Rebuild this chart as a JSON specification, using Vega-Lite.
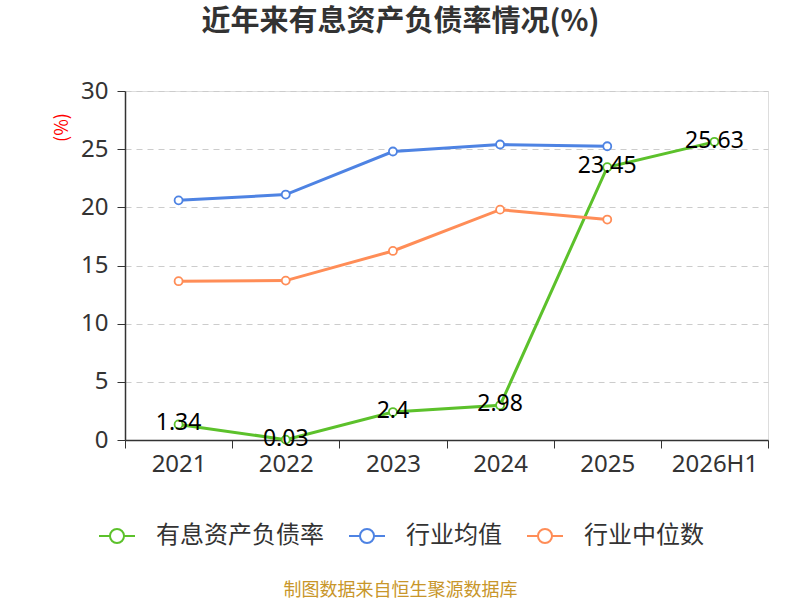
{
  "$schema": "https://vega.github.io/schema/vega-lite/v6.json",
  "width": 643,
  "height": 349,
  "autosize": {"type": "none"},
  "padding": {"left": 125, "top": 91, "right": 32, "bottom": 160},
  "background": "white",
  "title": {
    "text": "近年来有息资产负债率情况(%)",
    "font": "Noto Sans CJK SC",
    "fontSize": 29,
    "fontWeight": "bold",
    "color": "#333333",
    "anchor": "middle",
    "dx": -46,
    "offset": 42
  },
  "data": {
    "values": [
      {"period": "2021", "series": "有息资产负债率", "value": 1.34},
      {"period": "2022", "series": "有息资产负债率", "value": 0.03},
      {"period": "2023", "series": "有息资产负债率", "value": 2.4},
      {"period": "2024", "series": "有息资产负债率", "value": 2.98},
      {"period": "2025", "series": "有息资产负债率", "value": 23.45},
      {"period": "2026H1", "series": "有息资产负债率", "value": 25.63},
      {"period": "2021", "series": "行业均值", "value": 20.6},
      {"period": "2022", "series": "行业均值", "value": 21.1},
      {"period": "2023", "series": "行业均值", "value": 24.8},
      {"period": "2024", "series": "行业均值", "value": 25.4},
      {"period": "2025", "series": "行业均值", "value": 25.25},
      {"period": "2021", "series": "行业中位数", "value": 13.65},
      {"period": "2022", "series": "行业中位数", "value": 13.7},
      {"period": "2023", "series": "行业中位数", "value": 16.25},
      {"period": "2024", "series": "行业中位数", "value": 19.8},
      {"period": "2025", "series": "行业中位数", "value": 18.95}
    ]
  },
  "encoding": {
    "x": {
      "field": "period",
      "type": "ordinal",
      "sort": ["2021", "2022", "2023", "2024", "2025", "2026H1"],
      "scale": {"type": "band", "paddingInner": 0, "paddingOuter": 0},
      "axis": {
        "title": "制图数据来自恒生聚源数据库",
        "titleColor": "#c8962a",
        "titleFont": "Noto Sans CJK SC",
        "titleFontSize": 18,
        "titleFontWeight": "normal",
        "titleX": 275,
        "titleY": 150,
        "titleAlign": "center",
        "titleBaseline": "middle",
        "labelAngle": 0,
        "labelFont": "Noto Sans",
        "labelFontSize": 24,
        "labelColor": "#333333",
        "labelPadding": 4,
        "tickBand": "extent",
        "tickColor": "#333333",
        "tickSize": 8,
        "domainColor": "#333333",
        "domainWidth": 1.5,
        "grid": false
      }
    },
    "y": {
      "field": "value",
      "type": "quantitative",
      "scale": {"domain": [0, 30]},
      "axis": {
        "values": [0, 5, 10, 15, 20, 25, 30],
        "title": "(%)",
        "titleColor": "#ff0000",
        "titleFont": "Noto Sans CJK SC",
        "titleFontSize": 18,
        "titleFontWeight": "normal",
        "titleAngle": -90,
        "titleX": -63,
        "titleY": 36,
        "titleAlign": "center",
        "titleBaseline": "middle",
        "labelFont": "Noto Sans",
        "labelFontSize": 24,
        "labelColor": "#333333",
        "labelPadding": 9,
        "tickColor": "#333333",
        "tickSize": 8,
        "domainColor": "#333333",
        "domainWidth": 1.5,
        "gridColor": "#cccccc",
        "gridDash": [6, 5],
        "gridWidth": 1.2
      }
    },
    "color": {
      "field": "series",
      "type": "nominal",
      "sort": ["有息资产负债率", "行业均值", "行业中位数"],
      "scale": {
        "domain": ["有息资产负债率", "行业均值", "行业中位数"],
        "range": ["#5cc12b", "#4e83e3", "#ff8d57"]
      },
      "legend": {
        "title": null,
        "orient": "none",
        "direction": "horizontal",
        "legendX": -27,
        "legendY": 426,
        "symbolType": "M-1,0L-0.39,0M0.39,0L1,0M0.39,0A0.39,0.39 0 1,1 -0.39,0A0.39,0.39 0 1,1 0.39,0",
        "symbolSize": 1296,
        "symbolStrokeWidth": 2,
        "symbolFillColor": "white",
        "labelFont": "Noto Sans CJK SC",
        "labelFontSize": 24,
        "labelColor": "#333333",
        "labelOffset": 20,
        "labelLimit": 400,
        "columnPadding": 21
      }
    }
  },
  "layer": [
    {
      "mark": {
        "type": "line",
        "strokeWidth": 3,
        "point": {"filled": false, "fill": "white", "size": 64, "strokeWidth": 1.8}
      }
    },
    {
      "transform": [{"filter": "datum.series === '有息资产负债率'"}],
      "mark": {
        "type": "text",
        "font": "Noto Sans",
        "fontSize": 23,
        "baseline": "middle",
        "align": "center",
        "dy": -1
      },
      "encoding": {
        "text": {"field": "value", "type": "nominal"},
        "color": {"value": "#000000"}
      }
    }
  ]
}
